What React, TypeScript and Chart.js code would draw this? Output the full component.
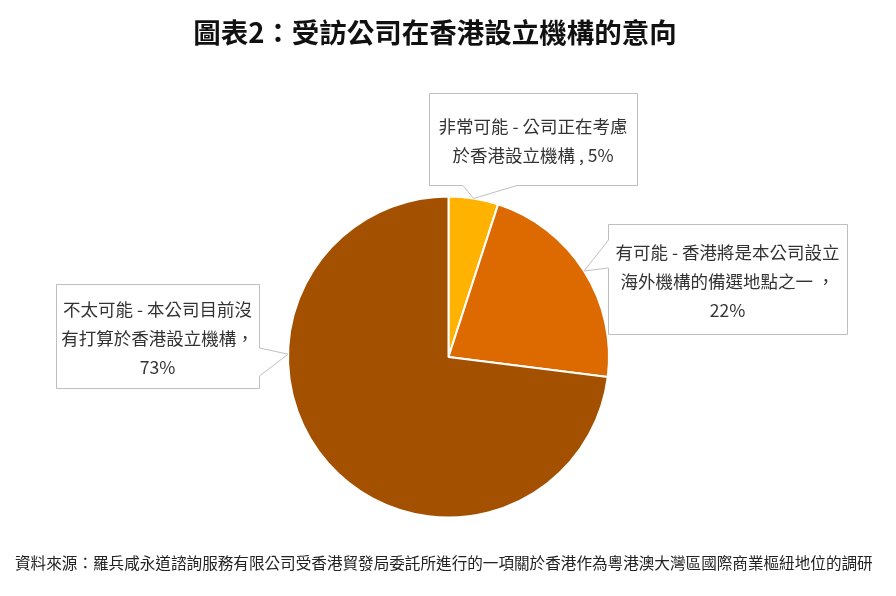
import { useEffect, useRef } from "react";
import { Chart, ArcElement, PieController } from "chart.js";
import type { Plugin } from "chart.js";

Chart.register(ArcElement, PieController);

const chartTitle = "圖表2：受訪公司在香港設立機構的意向";
const sourceNote =
  "資料來源：羅兵咸永道諮詢服務有限公司受香港貿發局委託所進行的一項關於香港作為粵港澳大灣區國際商業樞紐地位的調研";

const categories = [
  "非常可能 - 公司正在考慮於香港設立機構",
  "有可能 - 香港將是本公司設立海外機構的備選地點之一",
  "不太可能 - 本公司目前沒有打算於香港設立機構",
];
const shares = [5, 22, 73];

// label text as broken in the callouts, "%v" is replaced by the share
const calloutLines = [
  ["非常可能 - 公司正在考慮", "於香港設立機構 , %v"],
  ["有可能 - 香港將是本公司設立", "海外機構的備選地點之一 ，", "%v"],
  ["不太可能 - 本公司目前沒", "有打算於香港設立機構，", "%v"],
];

const sliceColors = ["#FFB300", "#DC6A00", "#A35100"];
const FONT = '"Noto Sans CJK TC", "Noto Sans CJK SC", sans-serif';

// callout boxes: [left, top, right, bottom], side that carries the pointer,
// pointer base along that side, optional fixed angle on the arc (deg)
const calloutLayout = [
  { box: [429, 93, 637, 185], side: "bottom", base: [463, 517], angle: null },
  { box: [608, 224, 847, 334], side: "left", base: [240, 268], angle: null },
  { box: [56, 284, 259, 388], side: "right", base: [348, 376], angle: 181 },
];

const calloutPlugin: Plugin<"pie"> = {
  id: "callouts",
  afterDraw(chart) {
    const ctx = chart.ctx;
    const meta = chart.getDatasetMeta(0);

    ctx.save();
    // title
    ctx.fillStyle = "#111";
    ctx.font = `bold 27.5px ${FONT}`;
    ctx.textAlign = "center";
    ctx.textBaseline = "middle";
    ctx.fillText(chartTitle, 435, 33);

    // source
    ctx.fillStyle = "#222";
    ctx.font = `15.6px ${FONT}`;
    ctx.textAlign = "left";
    ctx.fillText(sourceNote, 15, 563);

    meta.data.forEach((arc, i) => {
      const c = calloutLayout[i];
      if (!c) return;
      const p = (arc as any).getProps(["x", "y", "startAngle", "endAngle", "outerRadius"], true);
      const a = c.angle != null ? (c.angle * Math.PI) / 180 : (p.startAngle + p.endAngle) / 2;
      const ax = p.x + Math.cos(a) * p.outerRadius;
      const ay = p.y + Math.sin(a) * p.outerRadius;
      const [l0, t0, r0, b0] = c.box;
      const l = l0 + 0.5, t = t0 + 0.5, r = r0 + 0.5, b = b0 + 0.5;
      const [s0, s1] = c.base;

      ctx.beginPath();
      ctx.moveTo(l, t);
      ctx.lineTo(r, t);
      if (c.side === "right") {
        ctx.lineTo(r, s0);
        ctx.lineTo(ax, ay);
        ctx.lineTo(r, s1);
      }
      ctx.lineTo(r, b);
      if (c.side === "bottom") {
        ctx.lineTo(s1, b);
        ctx.lineTo(ax, ay);
        ctx.lineTo(s0, b);
      }
      ctx.lineTo(l, b);
      if (c.side === "left") {
        ctx.lineTo(l, s1);
        ctx.lineTo(ax, ay);
        ctx.lineTo(l, s0);
      }
      ctx.closePath();
      ctx.fillStyle = "#fff";
      ctx.fill();
      ctx.strokeStyle = "#BFBFBF";
      ctx.lineWidth = 1;
      ctx.stroke();

      const lines = calloutLines[i].map((s) => s.replace("%v", shares[i] + "%"));
      const lh = 29;
      const cx = (l0 + r0) / 2;
      const cy = (t0 + b0) / 2 + 2;
      ctx.fillStyle = "#333";
      ctx.font = `17.5px ${FONT}`;
      ctx.textAlign = "center";
      ctx.textBaseline = "middle";
      lines.forEach((ln, k) => {
        ctx.fillText(ln, cx, cy + (k - (lines.length - 1) / 2) * lh);
      });
    });
    ctx.restore();
  },
};

export default function App() {
  const canvasRef = useRef<HTMLCanvasElement>(null);
  const chartRef = useRef<Chart<"pie"> | null>(null);

  useEffect(() => {
    if (!canvasRef.current) return;
    if (chartRef.current) chartRef.current.destroy();

    chartRef.current = new Chart(canvasRef.current, {
      type: "pie",
      data: {
        labels: categories,
        datasets: [
          {
            data: shares,
            backgroundColor: sliceColors,
            borderColor: "#fff",
            borderWidth: 2,
          },
        ],
      },
      options: {
        responsive: true,
        maintainAspectRatio: false,
        animation: false,
        layout: { padding: { top: 195.5, bottom: 77.5, left: 1, right: 0 } },
        plugins: {
          legend: { display: false },
          tooltip: { enabled: false },
        },
      },
      plugins: [calloutPlugin],
    });

    return () => {
      chartRef.current?.destroy();
      chartRef.current = null;
    };
  }, []);

  return (
    <div style={{ position: "fixed", left: 0, top: 0, width: 896, height: 596, background: "#fff" }}>
      <canvas ref={canvasRef} />
    </div>
  );
}
